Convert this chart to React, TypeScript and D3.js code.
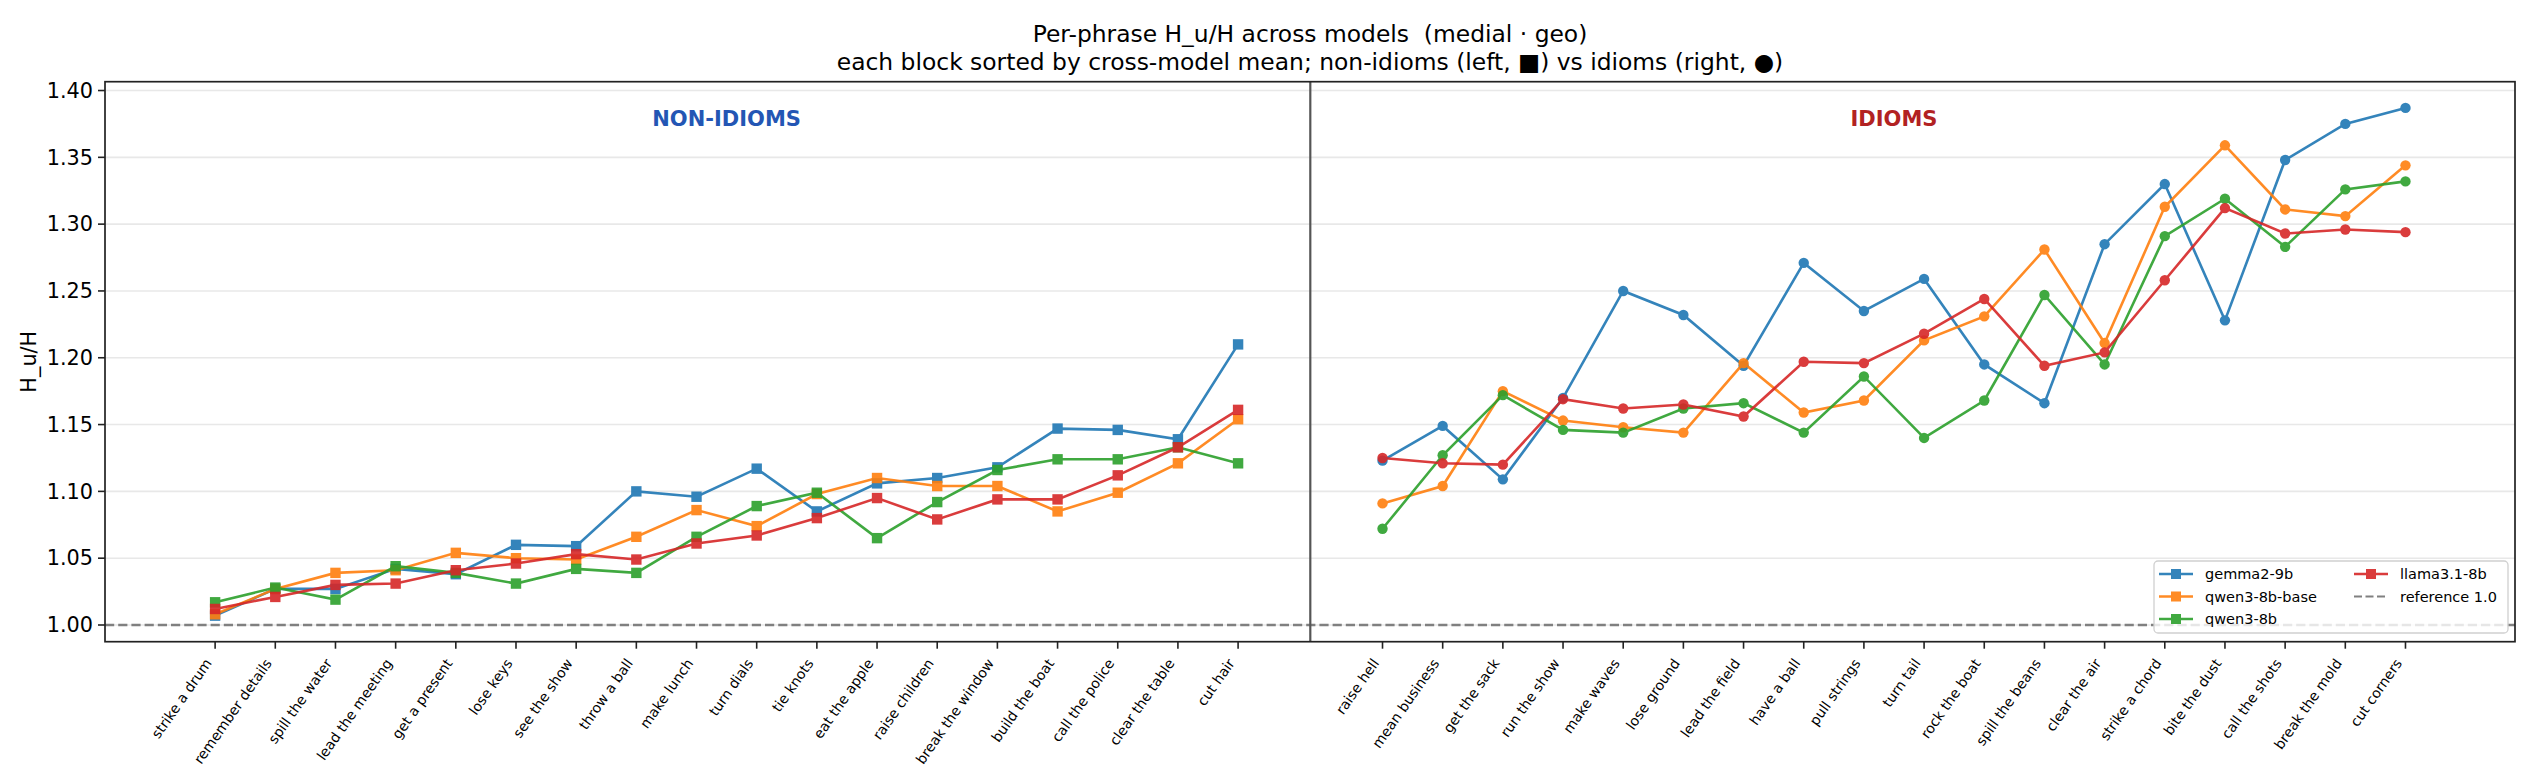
import React from "react";
import * as d3 from "d3";

const nonIdioms = ["strike a drum","remember details","spill the water","lead the meeting","get a present","lose keys","see the show","throw a ball","make lunch","turn dials","tie knots","eat the apple","raise children","break the window","build the boat","call the police","clear the table","cut hair"];
const idioms = ["raise hell","mean business","get the sack","run the show","make waves","lose ground","lead the field","have a ball","pull strings","turn tail","rock the boat","spill the beans","clear the air","strike a chord","bite the dust","call the shots","break the mold","cut corners"];

const models = ["gemma2-9b", "qwen3-8b-base", "qwen3-8b", "llama3.1-8b"];
const colors = ["#1f77b4", "#ff7f0e", "#2ca02c", "#d62728"];

const gemmaNon = [1.007, 1.027, 1.027, 1.042, 1.038, 1.060, 1.059, 1.100, 1.096, 1.117, 1.085, 1.106, 1.110, 1.118, 1.147, 1.146, 1.139, 1.210];
const qwenBaseNon = [1.008, 1.027, 1.039, 1.041, 1.054, 1.050, 1.049, 1.066, 1.086, 1.074, 1.098, 1.110, 1.104, 1.104, 1.085, 1.099, 1.121, 1.154];
const qwenNon = [1.017, 1.028, 1.019, 1.044, 1.039, 1.031, 1.042, 1.039, 1.066, 1.089, 1.099, 1.065, 1.092, 1.116, 1.124, 1.124, 1.133, 1.121];
const llamaNon = [1.012, 1.021, 1.030, 1.031, 1.041, 1.046, 1.053, 1.049, 1.061, 1.067, 1.080, 1.095, 1.079, 1.094, 1.094, 1.112, 1.133, 1.161];

const gemmaId = [1.123, 1.149, 1.109, 1.170, 1.250, 1.232, 1.194, 1.271, 1.235, 1.259, 1.195, 1.166, 1.285, 1.330, 1.228, 1.348, 1.375, 1.387];
const qwenBaseId = [1.091, 1.104, 1.175, 1.153, 1.148, 1.144, 1.196, 1.159, 1.168, 1.213, 1.231, 1.281, 1.211, 1.313, 1.359, 1.311, 1.306, 1.344];
const qwenId = [1.072, 1.127, 1.172, 1.146, 1.144, 1.162, 1.166, 1.144, 1.186, 1.140, 1.168, 1.247, 1.195, 1.291, 1.319, 1.283, 1.326, 1.332];
const llamaId = [1.125, 1.121, 1.120, 1.169, 1.162, 1.165, 1.156, 1.197, 1.196, 1.218, 1.244, 1.194, 1.204, 1.258, 1.312, 1.293, 1.296, 1.294];

const nonSeries = [gemmaNon, qwenBaseNon, qwenNon, llamaNon];
const idSeries = [gemmaId, qwenBaseId, qwenId, llamaId];

const yTicks = [1.0, 1.05, 1.1, 1.15, 1.2, 1.25, 1.3, 1.35, 1.4];
const referenceValue = 1.0;
const gapOffset = 19.4;
const dividerPos = 18.2;

const W = 2536, H = 784;
const L = 105, R = 2515, T = 81.7, B = 641.7;
const FONT = "DejaVu Sans, sans-serif";

export default function App() {
  const x = d3.scaleLinear().domain([-1.83, 38.22]).range([L, R]);
  const y = d3.scaleLinear().domain([0.9875, 1.4066]).range([B, T]);
  const nonX = nonIdioms.map((_, i) => x(i));
  const idX = idioms.map((_, j) => x(gapOffset + j));
  const line = d3.line<[number, number]>().x(d => d[0]).y(d => d[1]);
  const ms = 10.4;
  const rot = 55;
  const sin = Math.sin((rot * Math.PI) / 180), cos = Math.cos((rot * Math.PI) / 180);
  const xfs = 14;
  const labelTop = B + 7 + 7;

  const renderSeries = (series: number[][], xs: number[], circle: boolean) =>
    series.map((vals, k) => {
      const pts: [number, number][] = vals.map((v, i) => [xs[i], y(v)]);
      return (
        <g key={k} opacity={0.9}>
          <path d={line(pts) || ""} fill="none" stroke={colors[k]} strokeWidth={2.6} />
          {pts.map((p, i) =>
            circle ? (
              <circle key={i} cx={p[0]} cy={p[1]} r={ms / 2} fill={colors[k]} />
            ) : (
              <rect key={i} x={p[0] - ms / 2} y={p[1] - ms / 2} width={ms} height={ms} fill={colors[k]} />
            )
          )}
        </g>
      );
    });

  const allLabels = [...nonIdioms.map((t, i) => ({ t, px: nonX[i] })), ...idioms.map((t, j) => ({ t, px: idX[j] }))];

  const legendItems = [
    { label: models[0], color: colors[0], col: 0, row: 0, dashed: false },
    { label: models[1], color: colors[1], col: 0, row: 1, dashed: false },
    { label: models[2], color: colors[2], col: 0, row: 2, dashed: false },
    { label: models[3], color: colors[3], col: 1, row: 0, dashed: false },
    { label: "reference 1.0", color: "#808080", col: 1, row: 1, dashed: true },
  ];
  const legX = [2159, 2354];
  const legY = [574, 596.5, 619];

  return (
    <svg width={W} height={H} style={{ position: "absolute", left: 0, top: 0, background: "#fff" }} fontFamily={FONT}>
      <rect x={0} y={0} width={W} height={H} fill="#fff" />
      {/* title */}
      <text x={(L + R) / 2} y={42} textAnchor="middle" fontSize={23.4} fill="#000" style={{ whiteSpace: "pre" }}>{"Per-phrase H_u/H across models  (medial · geo)"}</text>
      <text x={(L + R) / 2} y={69.5} textAnchor="middle" fontSize={23.4} fill="#000">each block sorted by cross-model mean; non-idioms (left, ■) vs idioms (right, ●)</text>

      {/* grid */}
      {yTicks.map(v => (
        <line key={v} x1={L} x2={R} y1={y(v)} y2={y(v)} stroke="#e8e8e8" strokeWidth={1.6} />
      ))}
      {/* reference line */}
      <line x1={L} x2={R} y1={y(referenceValue)} y2={y(referenceValue)} stroke="#808080" strokeWidth={2.4} strokeDasharray="9.2,4" />
      {/* divider */}
      <line x1={x(dividerPos)} x2={x(dividerPos)} y1={T} y2={B} stroke="#555" strokeWidth={2.2} />

      {/* panel labels */}
      <text x={(nonX[0] + nonX[nonX.length - 1]) / 2} y={126} textAnchor="middle" fontSize={21} fontWeight="bold" fill="#2356b4">NON-IDIOMS</text>
      <text x={(idX[0] + idX[idX.length - 1]) / 2} y={126} textAnchor="middle" fontSize={21} fontWeight="bold" fill="#b22222">IDIOMS</text>

      {renderSeries(nonSeries, nonX, false)}
      {renderSeries(idSeries, idX, true)}

      {/* axes frame */}
      <rect x={L} y={T} width={R - L} height={B - T} fill="none" stroke="#222" strokeWidth={1.7} />

      {/* y ticks */}
      {yTicks.map(v => (
        <g key={v}>
          <line x1={L - 7} x2={L} y1={y(v)} y2={y(v)} stroke="#222" strokeWidth={1.6} />
          <text x={L - 12} y={y(v)} dy="0.35em" textAnchor="end" fontSize={20.8} fill="#000">{v.toFixed(2)}</text>
        </g>
      ))}
      <text transform={`translate(29, ${(T + B) / 2}) rotate(-90)`} textAnchor="middle" fontSize={20.8} fill="#000" dy="0.35em">H_u/H</text>

      {/* x ticks */}
      {allLabels.map((d, i) => (
        <g key={i}>
          <line x1={d.px} x2={d.px} y1={B} y2={B + 7} stroke="#222" strokeWidth={1.6} />
          <text
            transform={`translate(${d.px - 0.24 * xfs * sin}, ${labelTop + 0.93 * xfs * cos}) rotate(${-rot})`}
            textAnchor="end"
            fontSize={xfs}
            fill="#000"
          >{d.t}</text>
        </g>
      ))}

      {/* legend */}
      <rect x={2154} y={561} width={354} height={72} rx={4} fill="#fff" fillOpacity={0.8} stroke="#d0d0d0" strokeWidth={1.3} />
      {legendItems.map((it, i) => {
        const lx = legX[it.col], ly = legY[it.row];
        return (
          <g key={i}>
            {it.dashed ? (
              <line x1={lx} x2={lx + 34} y1={ly} y2={ly} stroke={it.color} strokeWidth={2.2} strokeDasharray="8,3.5" />
            ) : (
              <g opacity={0.9}>
                <line x1={lx} x2={lx + 34} y1={ly} y2={ly} stroke={it.color} strokeWidth={2.5} />
                <rect x={lx + 17 - 5} y={ly - 5} width={10} height={10} fill={it.color} />
              </g>
            )}
            <text x={lx + 46} y={ly} dy="0.36em" fontSize={14.5} fill="#000">{it.label}</text>
          </g>
        );
      })}
    </svg>
  );
}
